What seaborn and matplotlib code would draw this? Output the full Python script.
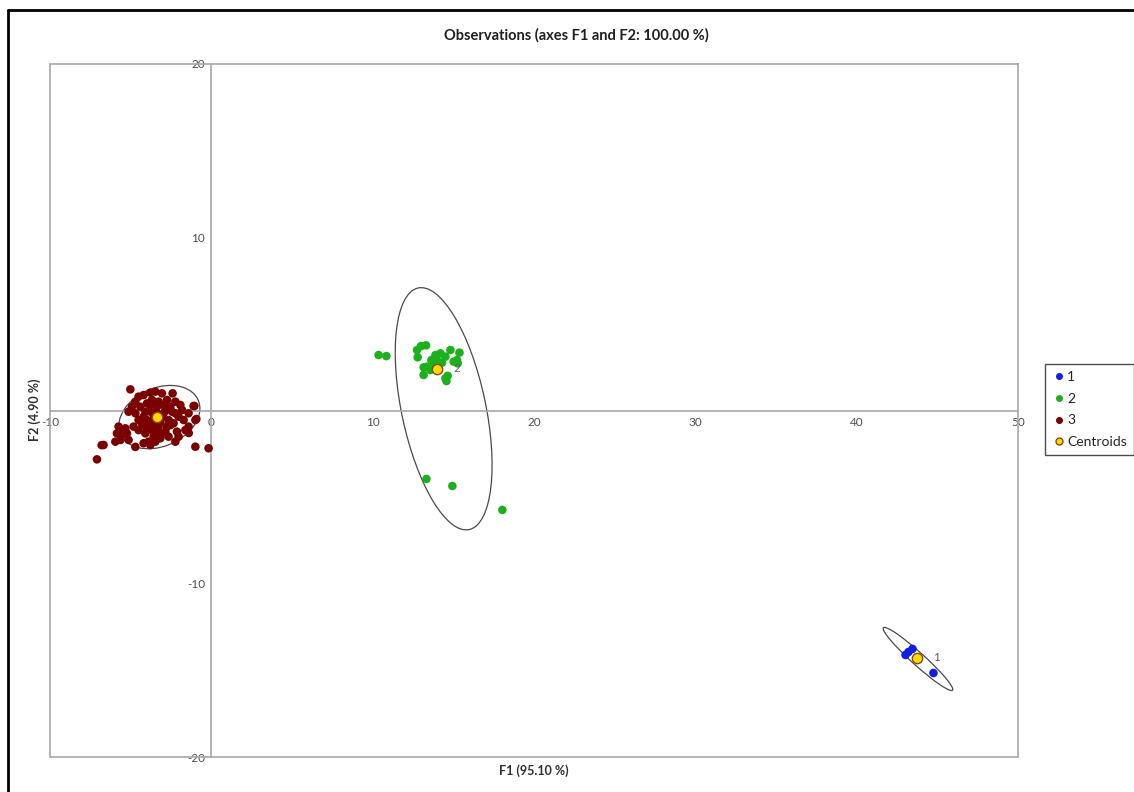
import matplotlib
matplotlib.use("Agg")
import matplotlib.pyplot as plt
import seaborn as sns
import pandas as pd
from matplotlib.patches import Ellipse
from matplotlib.lines import Line2D

# ---------------- data ----------------
c1_x = [43.03, 43.21, 43.46, 44.76]
c1_y = [-14.11, -13.94, -13.76, -15.15]

c2_x = [10.37, 10.85, 12.75, 13.00, 13.31, 12.79, 13.64, 13.89, 14.20, 14.51,
        14.82, 15.38, 15.23, 15.27, 13.68, 13.37, 13.16, 14.51, 14.65, 13.99,
        14.30, 15.02, 13.58, 14.09, 13.16, 14.57, 13.33, 14.94, 18.04]
c2_y = [3.20, 3.14, 3.49, 3.72, 3.76, 3.07, 2.91, 3.20, 3.30, 3.11,
        3.49, 3.34, 2.91, 2.72, 2.63, 2.53, 2.05, 1.86, 2.00, 2.91,
        2.76, 2.82, 2.34, 2.49, 2.49, 1.70, -3.95, -4.36, -5.74]

c3_x = [-5.02, -4.51, -4.20, -3.78, -3.47, -3.06, -2.40, -4.71, -5.13, -4.40,
        -3.99, -3.68, -3.27, -2.75, -2.23, -1.92, -1.10, -0.99, -1.72, -2.03,
        -2.44, -2.85, -3.78, -4.20, -4.51, -4.82, -5.33, -5.75, -5.85, -5.54,
        -5.95, -5.64, -5.23, -5.13, -3.68, -4.09, -4.09, -3.58, -3.89, -3.16,
        -2.85, -2.54, -2.13, -1.61, -2.03, -2.23, -1.41, -4.20, -3.78, -3.47,
        -3.37, -3.06, -2.65, -4.09, -4.71, -4.92, -4.30, -2.34, -1.82, -1.41,
        -3.27, -3.68, -4.51, -5.44, -6.68, -7.09, -4.71, -0.99, -0.17, -3.37,
        -2.95, -3.58, -3.16, -2.75, -3.78, -2.95, -2.54, -2.23, -3.99, -2.65,
        -3.06, -3.37, -0.93, -1.05, -6.80, -1.40]
c3_y = [1.22, 0.80, 0.89, 1.03, 1.09, 0.99, 0.99, 0.51, -0.07, 0.22,
        0.41, 0.61, 0.51, 0.61, 0.51, 0.32, 0.26, -0.55, -0.55, -0.36,
        -0.07, 0.03, -0.07, -0.36, -0.55, -0.93, -1.03, -0.93, -1.32, -1.41,
        -1.80, -1.70, -1.32, -1.70, -0.74, -0.93, -1.32, -1.51, -1.80, -1.60,
        -1.22, -0.84, -1.22, -1.13, -1.51, -1.80, -0.93, -1.89, -1.99, -1.80,
        0.22, -0.36, -0.55, -0.07, -0.16, 0.22, -0.74, -0.74, 0.03, -0.16,
        -0.93, -1.13, -1.13, -1.22, -1.99, -2.82, -2.10, -2.09, -2.18, -0.16,
        -0.16, -0.45, -0.65, -0.93, 0.32, 0.32, 0.22, -0.16, -0.55, -1.51,
        -1.32, -1.32, -0.49, 0.26, -2.00, -1.30]

cent_x = [43.77, 14.01, -3.37]
cent_y = [-14.28, 2.40, -0.36]
cent_labels = ["1", "2", "3"]

ell_cx = [43.8, 14.4, -3.22]
ell_cy = [-14.34, 0.1, -0.38]
ell_w = [5.6, 14.3, 5.2]
ell_h = [0.75, 5.2, 3.4]
ell_angle = [-40, 103, 20]

x_ticks = [-10, 0, 10, 20, 30, 40, 50]
y_ticks = [-20, -10, 0, 10, 20]

# ---------------- build ----------------
df = pd.DataFrame({
    "F1": c1_x + c2_x + c3_x,
    "F2": c1_y + c2_y + c3_y,
    "cls": ["1"] * len(c1_x) + ["2"] * len(c2_x) + ["3"] * len(c3_x),
})
cent = pd.DataFrame({"F1": cent_x, "F2": cent_y, "lab": cent_labels})

sns.set_theme(style="white")
plt.rcParams["font.family"] = ["Lato", "DejaVu Sans"]

fig = plt.figure(figsize=(11.34, 7.92), dpi=100)
ax = fig.add_axes([50 / 1134, 1 - 757 / 792, 968 / 1134, 693 / 792])

palette = {"1": "#1020e0", "2": "#1cb01c", "3": "#7a0000"}
sns.scatterplot(data=df, x="F1", y="F2", hue="cls", palette=palette,
                s=38, linewidth=0, ax=ax, legend=False, zorder=3)
sns.scatterplot(data=cent, x="F1", y="F2", color="#ffd800",
                edgecolor="#8a4a00", linewidth=1.0, s=55, ax=ax,
                legend=False, zorder=4)

for cx, cy, w, h, a in zip(ell_cx, ell_cy, ell_w, ell_h, ell_angle):
    ax.add_patch(Ellipse((cx, cy), w, h, angle=a, fill=False,
                         edgecolor="#4a4a4a", linewidth=0.9, zorder=2))

for cx, cy, lab in zip(cent_x[:2], cent_y[:2], cent_labels[:2]):
    ax.text(cx + 1.2, cy, lab, fontsize=8.5, color="#606060",
            va="center", ha="center", zorder=5)

ax.set_xlim(-10, 50)
ax.set_ylim(-20, 20)
ax.set_xticks(x_ticks)
ax.set_yticks(y_ticks)
ax.set_xticklabels([str(v) for v in x_ticks])
ax.set_yticklabels([str(v) if v != 0 else "" for v in y_ticks])

grey = "#a8a8a8"
for s in ["top", "right"]:
    ax.spines[s].set_color(grey)
    ax.spines[s].set_linewidth(1.2)
ax.spines["left"].set_position(("data", 0))
ax.spines["bottom"].set_position(("data", 0))
ax.spines["left"].set_color(grey)
ax.spines["bottom"].set_color(grey)
ax.spines["left"].set_linewidth(1.2)
ax.spines["bottom"].set_linewidth(1.2)
# outer frame lines of plot area
ax.plot([0, 0], [0, 1], transform=ax.transAxes, color=grey, lw=1.2, clip_on=False)
ax.plot([0, 1], [0, 0], transform=ax.transAxes, color=grey, lw=1.2, clip_on=False)

ax.tick_params(axis="both", direction="inout", length=5, width=0.8,
               colors=grey, labelcolor="#505050", labelsize=8.5, pad=2)
ax.set_xlabel("")
ax.set_ylabel("")

fig.text(534 / 1134, 1 - 771 / 792, "F1 (95.10 %)", ha="center", va="center",
         fontsize=9, fontweight="bold", color="#303030")
fig.text(35 / 1134, 1 - 410 / 792, "F2 (4.90 %)", ha="center", va="center",
         rotation=90, fontsize=9, fontweight="bold", color="#303030")
fig.text(576 / 1134, 1 - 35 / 792, "Observations (axes F1 and F2: 100.00 %)",
         ha="center", va="center", fontsize=10.5, fontweight="bold",
         color="#202020")

handles = [
    Line2D([], [], marker="o", ls="", color=palette["1"], markersize=4),
    Line2D([], [], marker="o", ls="", color=palette["2"], markersize=4),
    Line2D([], [], marker="o", ls="", color=palette["3"], markersize=4),
    Line2D([], [], marker="o", ls="", markerfacecolor="#ffd800",
           markeredgecolor="#8a4a00", markersize=5),
]
leg = fig.legend(handles, ["1", "2", "3", "Centroids"], loc="upper left",
                 bbox_to_anchor=(1045 / 1134, 1 - 364 / 792),
                 frameon=True, fontsize=10, handletextpad=0.1,
                 handlelength=1.0, borderpad=0.5, labelspacing=0.7,
                 borderaxespad=0, fancybox=False)
leg.get_frame().set_edgecolor("#202020")
leg.get_frame().set_linewidth(1.0)

# outer border of chart area
fig.add_artist(Line2D([8 / 1134, 1], [1 - 10 / 792, 1 - 10 / 792],
                      transform=fig.transFigure, color="black", lw=2))
fig.add_artist(Line2D([8 / 1134, 8 / 1134], [0, 1 - 10 / 792],
                      transform=fig.transFigure, color="black", lw=2))

fig.savefig("out.png", dpi=100, facecolor="white")
